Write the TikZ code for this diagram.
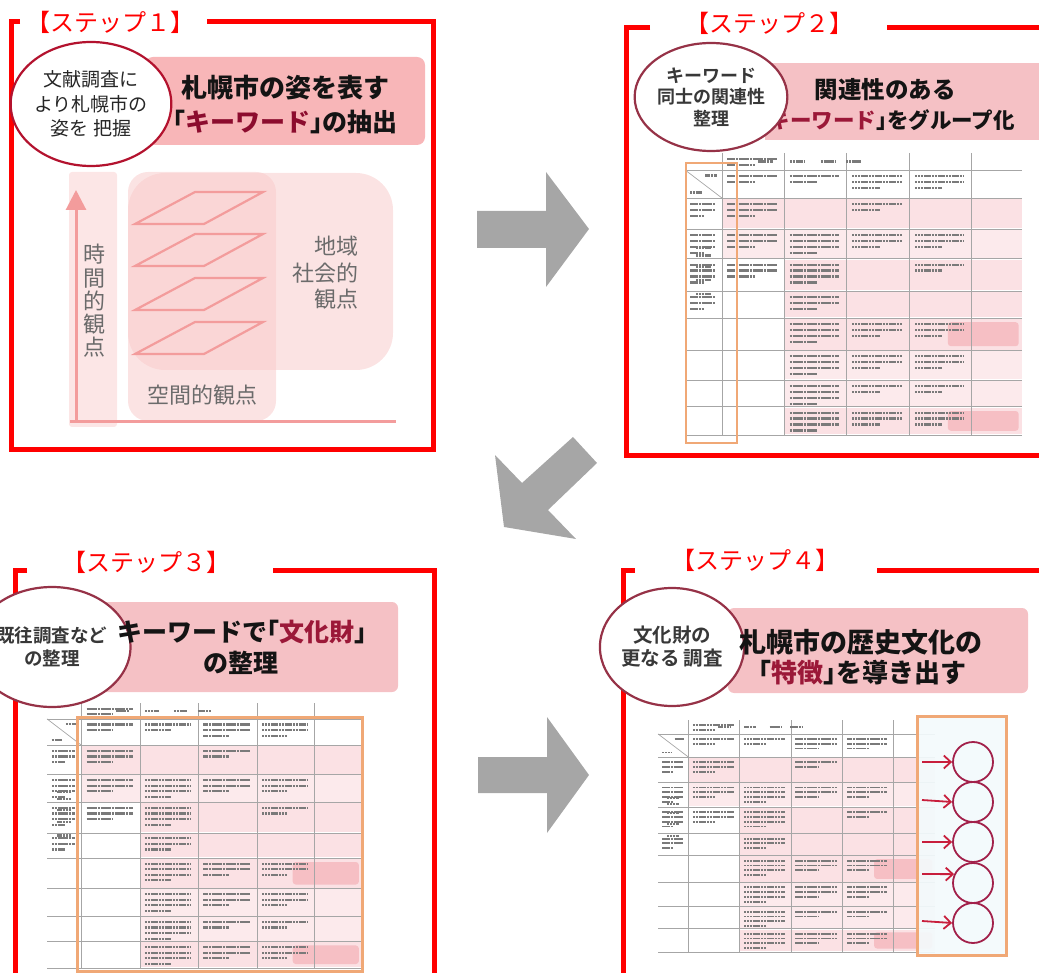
\documentclass[tikz,border=0pt]{standalone}
\usepackage{fontspec}
\setmainfont{Noto Sans CJK JP}[BoldFont=* Bold]
\newfontfamily\heavyjp{Noto Sans CJK JP Black}
\usetikzlibrary{arrows.meta,shapes.geometric}
\definecolor{frm}{HTML}{FF0000}
\definecolor{band1}{HTML}{F8B6B8}
\definecolor{band2}{HTML}{F5C1C5}
\definecolor{crim}{HTML}{8C0C2E}
\definecolor{crim2}{HTML}{9B1838}
\definecolor{ring1}{HTML}{B3122E}
\definecolor{ring2}{HTML}{963247}
\definecolor{pinkA}{HTML}{F8C8C8}
\definecolor{pinkLine}{HTML}{F39C9C}
\definecolor{pinkBar}{HTML}{FCE6E6}
\definecolor{txtgray}{HTML}{6B6B6B}
\definecolor{tpl}{HTML}{FBE1E4}
\definecolor{tps}{HTML}{F6BFC4}
\definecolor{orng}{HTML}{F0A876}
\definecolor{garrow}{HTML}{A6A6A6}
\definecolor{redarr}{HTML}{C81E3C}
\definecolor{ringc}{HTML}{A2204A}
\definecolor{cyanbg}{HTML}{F3FAFC}

\def\colf{{0,0.11,0.295,0.48,0.667,0.85,1}}
\def\rowf{{0,0.06,0.16,0.27,0.375,0.49,0.585,0.70,0.805,0.9,1}}
\def\tlw{1.8}

\newcommand\tabcell[3]{%
  \pgfmathtruncatemacro\tcn{#1+1}%
  \pgfmathsetmacro\tua{\colf[#1]+0.016}%
  \pgfmathsetmacro\tub{\colf[\tcn]-0.022}%
  \pgfmathsetmacro\tva{\rowf[#2]}%
  \foreach \k in {1,...,#3}{%
    \pgfmathsetmacro\tue{ifthenelse(\k==#3,\tua+0.55*(\tub-\tua),\tub)}%
    \pgfmathsetmacro\tvy{\tva+0.021*\k}%
    \draw[tline] (\tua,\tvy) -- (\tue,\tvy);
  }%
}
\newcommand\tabshort[3]{%
  \pgfmathtruncatemacro\tcn{#1+1}%
  \pgfmathtruncatemacro\trn{#2+1}%
  \pgfmathsetmacro\tuc{(\colf[#1]+\colf[\tcn])/2}%
  \pgfmathsetmacro\tvc{(\rowf[#2]+\rowf[\trn])/2}%
  \foreach \k in {1,...,#3}{%
    \pgfmathsetmacro\tvy{\tvc+(\k-(#3+1)/2)*0.026}%
    \draw[tline] ({\tuc-0.022},\tvy) -- ({\tuc+0.022},\tvy);
  }%
}
\newcommand\jtable[5]{%
\begin{scope}[shift={(#1pt,-#2pt)}, x=#3pt, y=-#4pt]
  \def\tlw{#5}%
  \fill[tpl] (0.11,0.163) rectangle (1,0.267);
  \fill[tpl!70] (0.11,0.273) rectangle (1,0.372);
  \fill[tpl] (0.295,0.378) rectangle (1,0.487);
  \fill[tpl] (0.295,0.493) rectangle (1,0.582);
  \fill[tpl] (0.295,0.588) rectangle (1,0.697);
  \fill[tps,rounded corners=3pt] (0.78,0.60) rectangle (0.99,0.685);
  \fill[tpl!70] (0.295,0.703) rectangle (1,0.802);
  \fill[tpl!70] (0.295,0.808) rectangle (1,0.897);
  \fill[tpl] (0.295,0.903) rectangle (1,0.997);
  \fill[tps,rounded corners=3pt] (0.78,0.915) rectangle (0.99,0.985);
  \foreach \v in {0.06,0.16,0.27,0.375,0.49,0.585,0.70,0.805,0.9,1}
    \draw[tgrid] (0,\v) -- (1,\v);
  \foreach \u in {0.11,0.295,0.48,0.667,0.85}
    \draw[tgrid] (\u,0) -- (\u,1);
  \draw[tgrid] (0,0.06) -- (0.11,0.16);
  % header row
  \tabcell{1}{0}{2}
  \tabshort{2}{0}{1}\tabshort{3}{0}{1}\tabshort{4}{0}{1}\tabshort{5}{0}{1}
  % row 1
  \draw[tline] (0.06,0.08) -- (0.095,0.08);
  \draw[tline] (0.015,0.14) -- (0.05,0.14);
  \tabcell{1}{1}{2}\tabcell{2}{1}{2}\tabcell{3}{1}{3}\tabcell{4}{1}{3}
  % row 2
  \tabcell{0}{2}{3}\tabcell{1}{2}{3}\tabcell{3}{2}{2}
  % row 3
  \tabcell{0}{3}{4}\tabcell{1}{3}{3}\tabcell{2}{3}{4}\tabcell{3}{3}{3}\tabcell{4}{3}{3}
  % row 4
  \tabcell{0}{4}{4}\tabcell{1}{4}{3}\tabcell{2}{4}{4}\tabcell{4}{4}{2}
  % row 5
  \tabcell{0}{5}{3}\tabcell{2}{5}{3}
  % row 6
  \tabshort{0}{6}{2}\tabcell{2}{6}{4}\tabcell{3}{6}{3}\tabcell{4}{6}{3}
  % row 7
  \tabshort{0}{7}{1}\tabcell{2}{7}{4}\tabcell{3}{7}{3}\tabcell{4}{7}{3}
  % row 8
  \tabshort{0}{8}{1}\tabcell{2}{8}{4}\tabcell{3}{8}{2}\tabcell{4}{8}{2}
  % row 9
  \tabshort{0}{9}{1}\tabcell{2}{9}{4}\tabcell{3}{9}{3}\tabcell{4}{9}{3}
\end{scope}}

\begin{document}
\begin{tikzpicture}[x=1pt,y=-1pt,
  frame/.style={draw=frm, line width=5pt},
  steplbl/.style={text=frm, font=\fontsize{24}{26}\selectfont, inner sep=0pt},
  tline/.style={line width=\tlw pt, draw=black!52, dash pattern=on 2.3pt off 0.5pt},
  tgrid/.style={draw=black!35, line width=0.7pt},
  orbox/.style={draw=orng, line width=3pt},
  ring/.style={ellipse, draw=ring2, line width=2.2pt, fill=white, inner sep=0pt, align=center, text=black!85},
  band/.style={fill=band2, rounded corners=6pt},
  bandtxt/.style={inner sep=0pt, text=black!92},
  gtxt/.style={text=txtgray, font=\fontsize{22}{26}\selectfont, inner sep=0pt, align=center},
  garr/.style={fill=garrow},
  rarr/.style={draw=redarr, line width=1.8pt, -{Straight Barb[length=7pt,width=13pt,line width=1.8pt]}},
  kcirc/.style={circle, draw=ringc, line width=1.8pt, fill=cyanbg, minimum size=40pt, inner sep=0pt}
]
\useasboundingbox (0,0) rectangle (1039,973);
\clip (0,0) rectangle (1039,973);

% ================= STEP 1 =================
\draw[frame] (20,22) -- (11,22) -- (11,449) -- (433,449) -- (433,22) -- (207,22);
\node[steplbl] (l1) at (111,22) {【ステップ１】};

\fill[band1, rounded corners=8pt] (145,57) rectangle (425,145);
\node[ring, draw=ring1, minimum width=136pt, minimum height=124pt,
      font=\fontsize{19}{24.5}\selectfont] (c1) at (91,104)
  {文献調査に\\より札幌市の\\姿を 把握};
\node[bandtxt, font=\fontsize{26}{28}\selectfont\heavyjp] (t1a) at (285,88) {札幌市の姿を表す};
\node[bandtxt, font=\fontsize{25}{28}\selectfont\heavyjp] (t1b) at (285,122)
  {\kern-.5em「{\color{crim}キーワード}」\kern-.5em の抽出};

% time bar
\fill[pinkBar, rounded corners=3pt] (69,172) rectangle (117,427);
% region / space boxes
\fill[pinkA, fill opacity=0.5, rounded corners=37pt] (128,173) rectangle (393,370);
\fill[pinkA, fill opacity=0.5, rounded corners=20pt] (128,172) rectangle (276,421);
% layers
\foreach \t in {192,234,278,322}
  \draw[pinkLine, line width=2.2pt, line join=miter] (135,\t+32) -- (195,\t) -- (263,\t) -- (204,\t+32) -- cycle;
% axes
\draw[pinkLine, line width=3pt] (70,422) -- (396,422);
\draw[pinkLine, line width=3pt, -{Triangle[length=20pt,width=20pt]}] (76,423) -- (76,190);

\node[gtxt, font=\fontsize{22}{23.2}\selectfont] (tt) at (94,301) {時\\間\\的\\観\\点};
\node[gtxt, anchor=east, align=right, font=\fontsize{22}{26.5}\selectfont] (ts) at (359,273) {地域\\社会的\\観点};
\node[gtxt] (tk) at (202,395) {空間的観点};

% ================= STEP 2 =================
\draw[frame] (650,28) -- (626,28) -- (626,455) -- (1045,455);
\draw[frame] (887,28) -- (1045,28);
\node[steplbl] (l2) at (769,23) {【ステップ２】};

\fill[band2] (765,63) rectangle (1045,140);
\jtable{685}{153}{337}{282}{2.3}
\draw[orbox, line width=2.6pt] (686,163) rectangle (737,443);
\node[bandtxt, font=\fontsize{23.5}{26}\selectfont\heavyjp] (t2a) at (885,90) {関連性のある};
\node[bandtxt, anchor=east, font=\fontsize{21.5}{26}\selectfont\heavyjp] (t2b) at (1015,120)
  {\kern-.5em「{\color{crim2}キーワード}」\kern-.5em をグループ化};
\node[ring, minimum width=116pt, minimum height=108pt,
      font=\fontsize{18}{21.5}\selectfont\bfseries, text=black!78] (c2) at (711,97)
  {キーワード\\同士の関連性\\整理};

% ================= STEP 3 =================
\draw[frame] (27,570) -- (15,570) -- (15,980);
\draw[frame] (273,570) -- (434,570) -- (434,980);
\node[steplbl] (l3) at (146,562) {【ステップ３】};

\fill[band] (100,602) rectangle (398,692);
\jtable{47}{703}{315}{265}{2.1}
\draw[orbox] (77,717) rectangle (362,971);
\node[ring, minimum width=126pt, minimum height=120pt,
      font=\fontsize{18.5}{23}\selectfont\bfseries, text=black!78] (c3) at (52,647)
  {既往調査など\\の整理};
\node[bandtxt, font=\fontsize{25}{28}\selectfont\heavyjp] (t3a) at (242,632)
  {キーワードで\kern-.5em「{\color{crim2}文化財}」\kern-.5em};
\node[bandtxt, font=\fontsize{25}{28}\selectfont\heavyjp] (t3b) at (241,663) {の整理};

% ================= STEP 4 =================
\draw[frame] (635,570) -- (623,570) -- (623,980);
\draw[frame] (877,570) -- (1045,570);
\node[steplbl] (l4) at (755,560) {【ステップ４】};

\fill[band] (728,608) rectangle (1028,693);
\jtable{658}{720}{277}{232}{1.9}
\fill[cyanbg, fill opacity=0.92] (917,716) rectangle (1006,955);
\draw[orbox] (917,716) rectangle (1006,955);
\node[ring, minimum width=130pt, minimum height=118pt,
      font=\fontsize{19.5}{23}\selectfont\bfseries, text=black!78] (c4) at (672,647)
  {文化財の\\更なる 調査};
\node[bandtxt, font=\fontsize{27}{30}\selectfont\heavyjp] (t4a) at (861,642) {札幌市の歴史文化の};
\node[bandtxt, font=\fontsize{26}{30}\selectfont\heavyjp] (t4b) at (862,673)
  {\kern-.5em「{\color{crim2}特徴}」\kern-.5em を導き出す};

\node[kcirc] (k1) at (973,762) {};
\node[kcirc] (k2) at (973,802) {};
\node[kcirc] (k3) at (973,842) {};
\node[kcirc] (k4) at (973,883) {};
\node[kcirc] (k5) at (973,923) {};
\coordinate (a1) at (922,762);
\coordinate (a2) at (922,800);
\coordinate (a3) at (922,842);
\coordinate (a4) at (922,874);
\coordinate (a5) at (922,921);
\draw[rarr] (a1) -- (k1.west);
\draw[rarr] (a2) -- (k2.west);
\draw[rarr] (a3) -- (k3.west);
\draw[rarr] (a4) -- (k4.155);
\draw[rarr] (a5) -- (k5.west);

% ================= GREY ARROWS =================
\fill[garr] (477,211) -- (546,211) -- (546,172) -- (589,229) -- (546,287) -- (546,248) -- (477,248) -- cycle;
\fill[garr] (478,757) -- (547,757) -- (547,717) -- (589,775) -- (547,833) -- (547,793) -- (478,793) -- cycle;
\fill[garr] (573,437) -- (597,463) -- (548,510) -- (576,539) -- (504,527) -- (495,455) -- (522,483) -- cycle;
\end{tikzpicture}
\end{document}
